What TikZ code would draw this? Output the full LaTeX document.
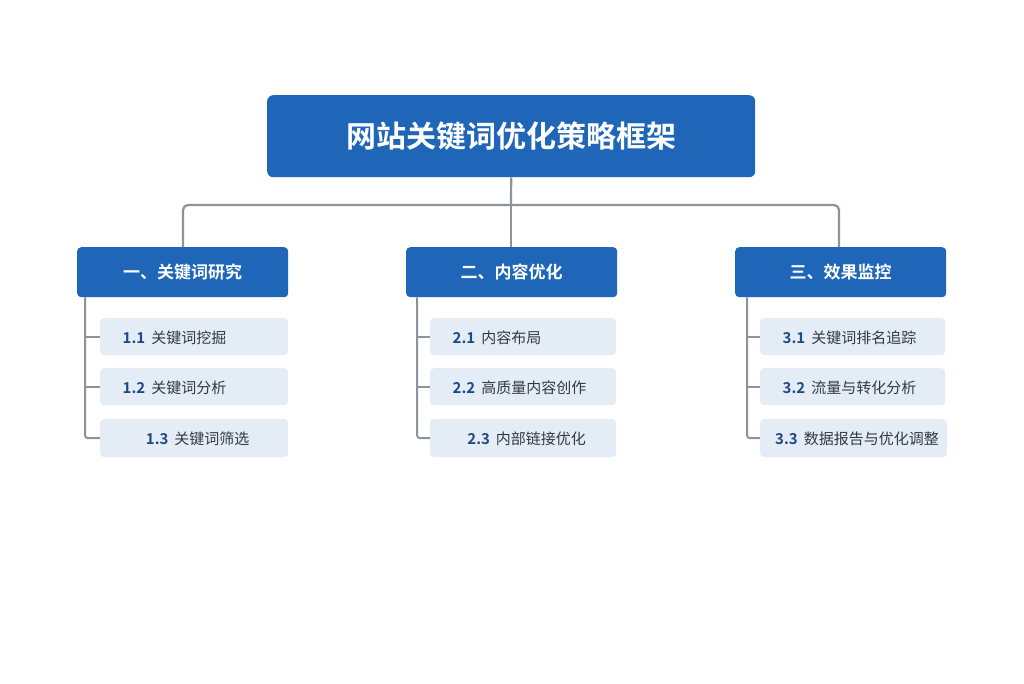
\documentclass[tikz,border=0pt]{standalone}
\usepackage{fontspec}
\setmainfont{Noto Sans CJK SC}
\newfontfamily\cjkb{Noto Sans CJK SC Bold}
\begin{document}
\begin{tikzpicture}[x=1pt,y=-1pt,
  title/.style={fill=tblue,rounded corners=6pt,text=white,font=\cjkb\fontsize{30}{34}\selectfont,inner sep=0pt,anchor=north west},
  cat/.style={fill=tblue,rounded corners=4pt,text=white,font=\cjkb\fontsize{17}{20}\selectfont,inner sep=0pt,anchor=north west},
  item/.style={fill=ibg,rounded corners=4pt,text=ntext,font=\fontsize{15}{18}\selectfont,inner sep=0pt,anchor=north west,text depth=0pt},
  conn/.style={draw=lgray,line width=2.2pt,rounded corners=5pt},
  tree/.style={draw=lgray,line width=2pt}]
\definecolor{tblue}{HTML}{1F66B8}
\definecolor{ibg}{HTML}{E4ECF5}
\definecolor{ntext}{HTML}{333A45}
\definecolor{nblue}{HTML}{1B4A85}
\definecolor{lgray}{HTML}{8C939B}
\newcommand{\num}[1]{{\cjkb\color{nblue}#1}\hspace{6pt}}
\useasboundingbox (0,0) rectangle (1024,683);
\fill[white] (0,0) rectangle (1024,683);
\node[title,minimum width=488pt,minimum height=82pt] (t) at (267,95) {网站关键词优化策略框架};
\coordinate (j) at (511,205);
\node[cat,minimum width=211pt,minimum height=50pt] (c1) at (77,247) {一、关键词研究};
\node[cat,minimum width=211pt,minimum height=50pt] (c2) at (406,247) {二、内容优化};
\node[cat,minimum width=211pt,minimum height=50pt] (c3) at (735,247) {三、效果监控};
\draw[conn] (t.south) -- (j);
\draw[conn] (j) -| (c1.north -| 183,0);
\draw[conn] (j) -| (c3.north -| 839,0);
\draw[conn] (j) -- (c2.north -| 511,0);
% items
\foreach \c/\x/\lx/\w/\a/\b/\cc in {1/100/85/188/{\num{1.1}关键词挖掘}/{\num{1.2}关键词分析}/{\num{1.3}关键词筛选},
  2/430/417/186/{\num{2.1}内容布局}/{\num{2.2}高质量内容创作}/{\num{2.3}内部链接优化},
  3/760/747/185/{\num{3.1}关键词排名追踪}/{\num{3.2}流量与转化分析}/{\num{3.3}数据报告与优化调整}}{
  \node[item,minimum width=\w pt,minimum height=37pt,text width=\w pt-15pt,align=left,inner xsep=0pt] (i\c a) at (\x,318) {\hspace*{15pt}\a};
  \node[item,minimum width=\w pt,minimum height=37pt,text width=\w pt-15pt,align=left] (i\c b) at (\x,368) {\hspace*{15pt}\b};
  \node[item,minimum width=\w pt,minimum height=38pt,align=left] (i\c c) at (\x,419) {\hspace*{15pt}\cc\hspace*{8pt}};
  \draw[tree,rounded corners=3pt] (c\c.south -| \lx,0) |- (i\c c.west);
  \draw[tree] (\lx,0 |- i\c a.west) -- (i\c a.west);
  \draw[tree] (\lx,0 |- i\c b.west) -- (i\c b.west);
}
\end{tikzpicture}
\end{document}
